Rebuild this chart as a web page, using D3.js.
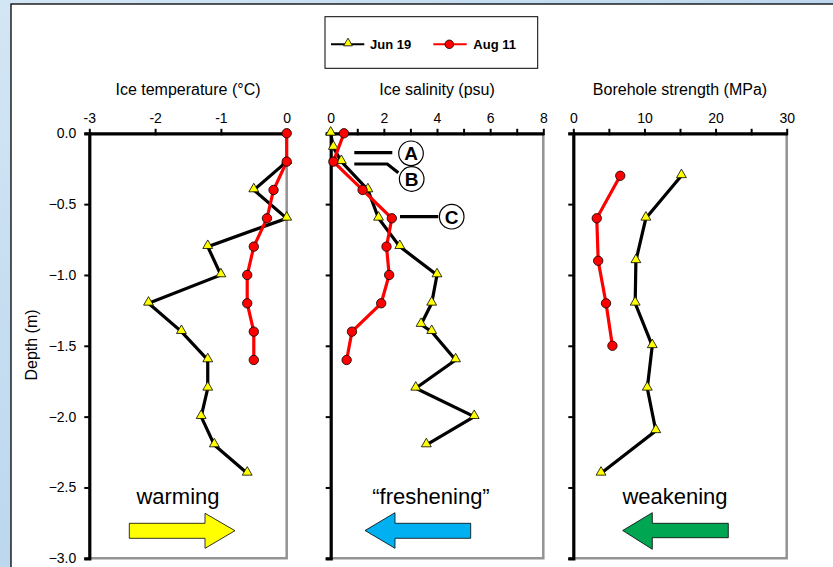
<!DOCTYPE html>
<html>
<head>
<meta charset="utf-8">
<script src="https://cdn.jsdelivr.net/npm/d3@7"></script>
<style>
  body { margin: 0; }
  svg text { font-family: "Liberation Sans", Arial, sans-serif; }
</style>
</head>
<body>
<svg id="chart" width="833" height="567"></svg>
<script>
const SERIES = ['Jun 19', 'Aug 11']

const TEMP_JUN_DEPTH = [-0.2, -0.4, -0.6, -0.8, -1.0, -1.2, -1.4, -1.6, -1.8, -2.0, -2.2, -2.4]
const TEMP_JUN = [0, -0.5, 0, -1.2, -1.0, -2.1, -1.6, -1.2, -1.2, -1.3, -1.1, -0.6]
const TEMP_AUG_DEPTH = [0, -0.2, -0.4, -0.6, -0.8, -1.0, -1.2, -1.4, -1.6]
const TEMP_AUG = [0, 0, -0.2, -0.3, -0.5, -0.6, -0.6, -0.5, -0.5]

const SAL_JUN_DEPTH = [0, -0.1, -0.2, -0.4, -0.6, -0.8, -1.0, -1.2, -1.35, -1.4, -1.6, -1.8, -2.0, -2.2]
const SAL_JUN = [0, 0.1, 0.4, 1.4, 1.8, 2.6, 4.0, 3.8, 3.4, 3.8, 4.7, 3.2, 5.4, 3.6]
const SAL_AUG_DEPTH = [0, -0.2, -0.4, -0.6, -0.8, -1.0, -1.2, -1.4, -1.6]
const SAL_AUG = [0.5, 0.1, 1.2, 2.3, 2.1, 2.2, 1.9, 0.8, 0.6]

const STR_JUN_DEPTH = [-0.3, -0.6, -0.9, -1.2, -1.5, -1.8, -2.1, -2.4]
const STR_JUN = [15.2, 10.2, 8.8, 8.7, 11.1, 10.4, 11.6, 3.9]
const STR_AUG_DEPTH = [-0.3, -0.6, -0.9, -1.2, -1.5]
const STR_AUG = [6.6, 3.3, 3.5, 4.6, 5.5]

const DEPTH_TICKS = [0, -0.5, -1.0, -1.5, -2.0, -2.5, -3.0]
const TEMP_TICKS = [-3, -2, -1, 0]
const SAL_TICKS = [0, 1, 2, 3, 4, 5, 6, 7, 8]
const SAL_LABELS = [0, 2, 4, 6, 8]
const STR_TICKS = [0, 5, 10, 15, 20, 25, 30]
const STR_LABELS = [0, 10, 20, 30]

const svg = d3.select('#chart')

// background + white slide frame
const defs = svg.append('defs')
const grad = defs.append('linearGradient').attr('id', 'bg')
    .attr('x1', 0).attr('y1', 0).attr('x2', 1).attr('y2', 1)
grad.append('stop').attr('offset', '0%').attr('stop-color', '#d3e6f5')
grad.append('stop').attr('offset', '50%').attr('stop-color', '#bcd7ee')
grad.append('stop').attr('offset', '100%').attr('stop-color', '#d6e8f6')
svg.append('rect').attr('width', 833).attr('height', 567).attr('fill', 'url(#bg)')
svg.append('rect')
    .attr('x', 11).attr('y', 4).attr('width', 840).attr('height', 580)
    .attr('fill', '#fff').attr('stroke', '#000').attr('stroke-width', 1.3)

const y = d3.scaleLinear().domain([0, -3]).range([133.3, 558.3])

const panels = [
    {title: 'Ice temperature (°C)', domain: [-3, 0], range: [89.3, 286.7],
        ticks: TEMP_TICKS, labels: TEMP_TICKS, yLabels: true,
        jun: [TEMP_JUN_DEPTH, TEMP_JUN], aug: [TEMP_AUG_DEPTH, TEMP_AUG]},
    {title: 'Ice salinity (psu)', domain: [0, 8], range: [330.7, 543.3],
        ticks: SAL_TICKS, labels: SAL_LABELS, yLabels: false,
        jun: [SAL_JUN_DEPTH, SAL_JUN], aug: [SAL_AUG_DEPTH, SAL_AUG]},
    {title: 'Borehole strength (MPa)', domain: [0, 30], range: [573.3, 786.7],
        ticks: STR_TICKS, labels: STR_LABELS, yLabels: false,
        jun: [STR_JUN_DEPTH, STR_JUN], aug: [STR_AUG_DEPTH, STR_AUG]}
]

const triangle = d3.symbol().type(d3.symbolTriangle).size(42)

panels.forEach(p => {
    const x = d3.scaleLinear().domain(p.domain).range(p.range)
    const g = svg.append('g')
    const [x0, x1] = p.range
    const [yTop, yBot] = y.range()

    // plot border, grey right/bottom
    g.append('path')
        .attr('d', `M${x0},${yBot}H${x1}V${yTop}`)
        .attr('fill', 'none').attr('stroke', '#939393').attr('stroke-width', 2.5)

    // top axis
    const xAxis = g.append('g')
        .attr('transform', `translate(0,${yTop})`)
        .call(d3.axisTop(x).tickValues(p.ticks).tickSize(0).tickPadding(10)
            .tickFormat(d => p.labels.includes(d) ? d : ''))
    xAxis.select('.domain').attr('stroke-width', 3.2)
    xAxis.selectAll('.tick line').attr('y1', 2).attr('y2', -4.5).attr('stroke-width', 2)
    xAxis.selectAll('.tick text').attr('font-size', 14).attr('fill', '#000')

    // left axis
    const yAxis = g.append('g')
        .attr('transform', `translate(${x0},0)`)
        .call(d3.axisLeft(y).tickValues(DEPTH_TICKS).tickSize(5).tickPadding(8)
            .tickFormat(d => p.yLabels ? d3.format('.1f')(d) : ''))
    yAxis.select('.domain').attr('stroke-width', 3.2)
    yAxis.selectAll('.tick line').attr('stroke-width', 2)
    yAxis.selectAll('.tick text').attr('font-size', 14).attr('fill', '#000')

    g.append('text')
        .attr('x', (x0 + x1) / 2).attr('y', 95)
        .attr('text-anchor', 'middle').attr('font-size', 16)
        .text(p.title)

    const line = d3.line().x(d => x(d[1])).y(d => y(d[0]))
    const jun = d3.zip(p.jun[0], p.jun[1])
    const aug = d3.zip(p.aug[0], p.aug[1])

    g.append('path').datum(jun).attr('d', line)
        .attr('fill', 'none').attr('stroke', '#000').attr('stroke-width', 3.2)
    g.selectAll('.tri').data(jun).enter().append('path')
        .attr('class', 'tri')
        .attr('transform', d => `translate(${x(d[1])},${y(d[0]) - 1})`)
        .attr('d', triangle)
        .attr('fill', '#ffff00').attr('stroke', '#000').attr('stroke-width', 0.8)

    g.append('path').datum(aug).attr('d', line)
        .attr('fill', 'none').attr('stroke', '#ff0000').attr('stroke-width', 3.2)
    g.selectAll('.dot').data(aug).enter().append('circle')
        .attr('class', 'dot')
        .attr('cx', d => x(d[1])).attr('cy', d => y(d[0]))
        .attr('r', 4.7)
        .attr('fill', '#ff0000').attr('stroke', '#000').attr('stroke-width', 0.8)
})

svg.append('text')
    .attr('transform', 'translate(37,345) rotate(-90)')
    .attr('text-anchor', 'middle').attr('font-size', 16)
    .text('Depth (m)')

// legend
const legend = svg.append('g')
legend.append('rect')
    .attr('x', 325).attr('y', 16.7).attr('width', 212.7).attr('height', 51.6)
    .attr('fill', '#fff').attr('stroke', '#000').attr('stroke-width', 1)
legend.append('line').attr('x1', 331).attr('x2', 364.3).attr('y1', 44.3).attr('y2', 44.3)
    .attr('stroke', '#000').attr('stroke-width', 2)
legend.append('path').attr('d', d3.symbol().type(d3.symbolTriangle).size(34)())
    .attr('transform', 'translate(348,43.3)')
    .attr('fill', '#ffff00').attr('stroke', '#000').attr('stroke-width', 0.8)
legend.append('text').attr('x', 370).attr('y', 49)
    .attr('font-size', 13).attr('font-weight', 'bold').text(SERIES[0])
legend.append('line').attr('x1', 433.3).attr('x2', 466.7).attr('y1', 44.3).attr('y2', 44.3)
    .attr('stroke', '#ff0000').attr('stroke-width', 2)
legend.append('circle').attr('cx', 449.3).attr('cy', 44.3).attr('r', 4.3)
    .attr('fill', '#ff0000').attr('stroke', '#000').attr('stroke-width', 0.8)
legend.append('text').attr('x', 473.3).attr('y', 49)
    .attr('font-size', 13).attr('font-weight', 'bold').text(SERIES[1])

// A / B / C callouts
const callouts = [
    {label: 'A', cx: 411, cy: 153.3, path: 'M354.3,152.7H392.3'},
    {label: 'B', cx: 411.7, cy: 179, path: 'M354.3,164H387.3L398.3,172.7'},
    {label: 'C', cx: 451.7, cy: 216.7, path: 'M400,216.7H438.3'}
]
callouts.forEach(c => {
    svg.append('path').attr('d', c.path)
        .attr('fill', 'none').attr('stroke', '#000').attr('stroke-width', 3.2)
    svg.append('circle').attr('cx', c.cx).attr('cy', c.cy).attr('r', 12.3)
        .attr('fill', '#fff').attr('stroke', '#000').attr('stroke-width', 1.2)
    svg.append('text').attr('x', c.cx).attr('y', c.cy + 7)
        .attr('text-anchor', 'middle').attr('font-size', 19).attr('font-weight', 'bold')
        .text(c.label)
})

// trend labels and arrows
const trends = [
    {text: 'warming', x: 178, fill: '#ffff00',
        pts: [[129.3, 523.3], [205, 523.3], [205, 513.3], [235, 530.7], [205, 548.3], [205, 538.3], [129.3, 538.3]]},
    {text: '\u201cfreshening\u201d', x: 431, fill: '#00b0f0',
        pts: [[470.7, 523.3], [395, 523.3], [395, 512.7], [365, 530.5], [395, 548.3], [395, 538.3], [470.7, 538.3]]},
    {text: 'weakening', x: 675, fill: '#00a651',
        pts: [[728.3, 523.3], [652.3, 523.3], [652.3, 512.7], [622.7, 530.5], [652.3, 549.3], [652.3, 537.7], [728.3, 537.7]]}
]
trends.forEach(t => {
    svg.append('text').attr('x', t.x).attr('y', 504)
        .attr('text-anchor', 'middle').attr('font-size', 22)
        .text(t.text)
    svg.append('polygon').attr('points', t.pts.map(p => p.join(',')).join(' '))
        .attr('fill', t.fill).attr('stroke', '#000').attr('stroke-width', 0.8)
})
</script>
</body>
</html>
